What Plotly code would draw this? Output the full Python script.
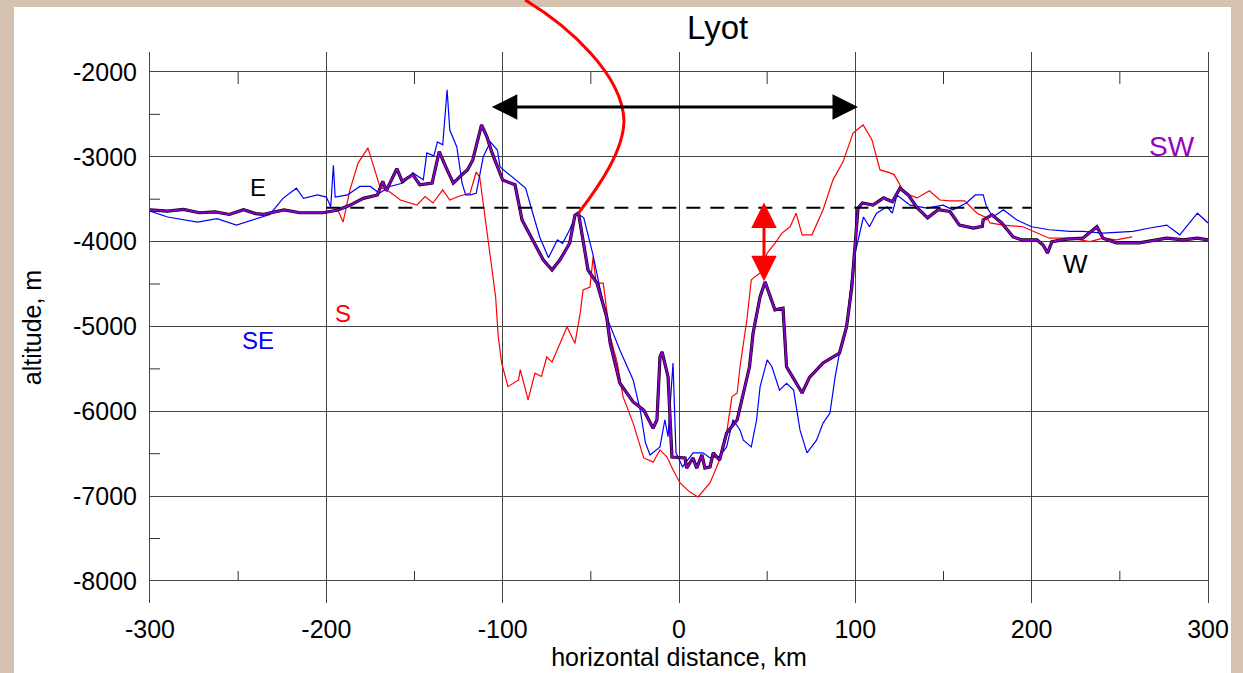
import plotly.graph_objects as go

# ---------------- data ----------------
# thick profile (black E-W under purple SW)
ew_x = [-300, -290, -281, -272, -263, -255, -247, -240, -236, -230, -224, -215, -202, -194, -187,
        -179, -171, -168, -166, -160, -157, -151, -147, -140, -136, -132, -128, -122.5, -120, -117,
        -112, -109, -106, -100, -93, -89, -83, -77, -72, -67.5, -62, -59, -57, -51.6, -46.5, -41,
        -39, -33.5, -26, -20, -14.7, -12.5, -10.8, -9.6, -6.2, -4, 3.4, 4.3, 8, 10, 13, 14.7, 17.6,
        19.4, 23, 27, 33, 35.6, 40, 42, 46, 48.8, 54.4, 59, 61, 64.6, 69.8, 74, 81.7, 91, 95, 98,
        100, 101.5, 104, 110, 116, 121, 125.3, 130, 135, 141, 147, 153.7, 159, 167, 172, 172.5,
        177.5, 183, 189.5, 194.5, 203, 206.5, 209, 211.5, 220, 229, 237, 240.5, 248, 261, 276.5,
        286, 294, 300]
ew_y = [-3627, -3640, -3620, -3660, -3650, -3680, -3625, -3670, -3680, -3655, -3627, -3660, -3660,
        -3630, -3575, -3490, -3450, -3290, -3400, -3140, -3290, -3210, -3330, -3310, -2940, -3130,
        -3310, -3200, -3155, -3040, -2625, -2760, -2955, -3275, -3330, -3745, -3980, -4215, -4335,
        -4215, -4020, -3690, -3665, -4335, -4490, -4890, -5200, -5670, -5890, -5985, -6200, -6100,
        -5360, -5300, -5595, -6540, -6550, -6670, -6550, -6670, -6515, -6670, -6655, -6490, -6575,
        -6255, -6100, -5865, -5475, -5080, -4650, -4475, -4805, -4785, -5475, -5600, -5785, -5600,
        -5430, -5315, -5005, -4535, -3980, -3605, -3545, -3570, -3485, -3530, -3370, -3450, -3600,
        -3720, -3625, -3645, -3805, -3840, -3820, -3745, -3685, -3780, -3945, -3980, -3980, -4040,
        -4135, -4000, -3970, -3960, -3825, -3960, -4015, -4015, -3960, -3980, -3960, -3980]

# SE profile (blue)
se_x = [-300, -290, -273, -262, -251, -243, -232, -224.6, -217, -213, -205, -200, -197.5, -196, -195,
        -188, -181, -175, -170, -164, -156.5, -151, -145, -143, -139, -137, -134, -131.5, -130, -126,
        -123, -121, -118.5, -115, -111, -107, -103, -101.5, -94, -87, -83, -79, -74, -69, -66, -62,
        -58, -54, -49, -45, -41, -33.5, -26, -22, -19, -16.4, -10.8, -8, -6.2, -3.4, -1.7, 2, 8,
        13.6, 17.6, 23, 27, 30.6, 34.6, 36.5, 41, 44, 46, 50, 52.7, 57, 61, 65, 68.6, 72.6, 78,
        81.7, 85.6, 88.5, 91, 95, 99, 102.6, 104.6, 108, 112, 118, 121, 123.6, 131, 140.6, 149.7,
        155.4, 163, 168, 172.5, 174.4, 178, 184, 191.6, 200, 210, 221.7, 229, 240.5, 257.5, 267,
        276.6, 284, 294, 300]
se_y = [-3640, -3710, -3770, -3730, -3805, -3750, -3680, -3490, -3370, -3490, -3450, -3475, -3590,
        -3100, -3475, -3450, -3350, -3350, -3430, -3350, -3310, -3190, -3270, -2955, -2990, -2825,
        -2860, -2210, -2685, -2885, -3310, -3450, -3450, -3430, -3000, -2825, -2920, -3120, -3250,
        -3370, -3660, -3945, -4190, -3980, -4020, -3860, -3665, -3720, -4135, -4535, -4890, -5280,
        -5630, -5985, -6375, -6515, -6420, -6100, -6300, -5430, -6490, -6655, -6490, -6490, -6550,
        -6530, -6420, -6100, -6220, -6340, -6420, -6100, -5710, -5395, -5475, -5750, -5670, -5750,
        -6220, -6490, -6340, -6140, -6020, -5600, -5315, -5005, -4215, -3900, -3710, -3825, -3665,
        -3590, -3665, -3450, -3570, -3605, -3570, -3625, -3545, -3450, -3450, -3590, -3710, -3625,
        -3745, -3825, -3860, -3880, -3880, -3900, -3880, -3840, -3805, -3920, -3665, -3780]

# S profile (red)
s_x = [-193.5, -190.5, -186.6, -182, -176.4, -169.6, -164, -158, -148.6, -144, -139.5, -134, -130,
       -124, -118.5, -115, -113, -110, -107, -104, -102.5, -100.6, -97, -91, -90, -85.6, -81.7, -78,
       -75, -72, -67.5, -63.5, -59, -56, -54.4, -50.5, -48.7, -47, -43, -39, -35, -31.7, -26, -20,
       -14.7, -10.8, -6.8, -3.4, 0.6, 6, 10.8, 17.6, 23, 27, 30, 33, 34.6, 38.5, 41, 46, 50, 54.4,
       58.4, 63, 66.4, 69.8, 75.4, 81.7, 87.3, 93, 98.7, 104.4, 109.4, 114, 119.7, 122, 128, 135,
       142, 148, 153.7, 162, 169, 174.7, 176.4, 184, 195, 203, 210, 221.7, 233, 240.5, 248, 257]
s_y = [-3625, -3770, -3390, -3075, -2895, -3355, -3415, -3510, -3570, -3470, -3545, -3390, -3510,
       -3460, -3430, -3180, -3240, -3710, -4180, -4650, -5120, -5430, -5710, -5630, -5510, -5865,
       -5550, -5590, -5360, -5420, -5200, -5005, -5200, -4840, -4570, -4535, -4180, -4490, -4490,
       -5120, -5430, -5830, -6140, -6550, -6600, -6455, -6540, -6690, -6845, -6950, -7010, -6845,
       -6575, -6255, -5830, -5785, -5475, -4920, -4450, -4370, -4135, -4020, -3900, -3825, -3665,
       -3920, -3920, -3625, -3275, -3060, -2720, -2625, -2800, -3155, -3190, -3210, -3430, -3485,
       -3400, -3510, -3520, -3520, -3665, -3720, -3780, -3805, -3825, -3900, -3960, -3960, -4000,
       -3960, -3980, -3945]

# reference level (dashed) and annotations
ref_level_x = [-200, 200]
ref_level_y = [-3600, -3600]
rim_arrow_x = [-107, 101.5]
rim_arrow_y = -2413
peak_arrow_x = 48.2
peak_arrow_y = [-3540, -4484]
arc_x = [-87.3, -61.8, -32.3, -31.2, -31.2, -44.8, -57]
arc_y = [-1151, -1470, -2035, -2566, -2919, -3332, -3665]

x_ticks = [-300, -200, -100, 0, 100, 200, 300]
y_ticks = [-2000, -3000, -4000, -5000, -6000, -7000, -8000]
x_minor = [-250, -150, -50, 50, 150, 250]
y_minor = [-2500, -3500, -4500, -5500, -6500, -7500]

labels = [("E", -238.8, -3367, "black", 24),
          ("W", 225, -4263, "black", 26),
          ("SW", 279.6, -2884, "#9A00C8", 28),
          ("SE", -238.8, -5160, "#0000FF", 24),
          ("S", -190.5, -4853, "#FF0000", 24)]

X_RANGE = [-300, 300]
Y_RANGE = [-8260, -1765]
FONT = "Liberation Sans, Arial, sans-serif"
BG = "#D4C1B0"


def xp(v):
    return (v - X_RANGE[0]) / (X_RANGE[1] - X_RANGE[0])


def yp(v):
    return (v - Y_RANGE[0]) / (Y_RANGE[1] - Y_RANGE[0])


fig = go.Figure()
fig.add_trace(go.Scatter(x=s_x, y=s_y, mode="lines", line=dict(color="#FF0000", width=1.2)))
fig.add_trace(go.Scatter(x=se_x, y=se_y, mode="lines", line=dict(color="#0000FF", width=1.2)))
fig.add_trace(go.Scatter(x=ew_x, y=ew_y, mode="lines", line=dict(color="#000000", width=3.2)))
fig.add_trace(go.Scatter(x=ew_x, y=ew_y, mode="lines", line=dict(color="#8A00C8", width=2)))
fig.add_trace(go.Scatter(x=ref_level_x, y=ref_level_y, mode="lines",
                         line=dict(color="black", width=2, dash="14px,10px")))

shapes = []
# white panel
shapes.append(dict(type="rect", xref="paper", yref="paper", layer="below",
                   x0=(14 - 150) / 1058, x1=(1231 - 150) / 1058,
                   y0=(603 - 680) / 551, y1=(603 - 7) / 551,
                   fillcolor="white", line=dict(width=0)))
# minor ticks
for v in y_minor:
    shapes.append(dict(type="line", xref="x", yref="y", xsizemode="pixel", xanchor=X_RANGE[0],
                       x0=0, x1=10, y0=v, y1=v, line=dict(color="#333", width=1)))
for v in x_minor:
    shapes.append(dict(type="line", xref="x", yref="y", ysizemode="pixel", yanchor=y_ticks[0],
                       y0=0, y1=-12, x0=v, x1=v, line=dict(color="#333", width=1)))
    shapes.append(dict(type="line", xref="x", yref="y", ysizemode="pixel", yanchor=y_ticks[-1],
                       y0=0, y1=10, x0=v, x1=v, line=dict(color="#333", width=1)))
# red arc
pts = [(xp(a), yp(b)) for a, b in zip(arc_x, arc_y)]
path = "M {:.4f},{:.4f} C {:.4f},{:.4f} {:.4f},{:.4f} {:.4f},{:.4f} C {:.4f},{:.4f} {:.4f},{:.4f} {:.4f},{:.4f}".format(
    *[c for p in pts for c in p])
shapes.append(dict(type="path", xref="paper", yref="paper", path=path,
                   line=dict(color="#FF0000", width=3)))

annotations = []
annotations.append(dict(x=rim_arrow_x[1], y=rim_arrow_y, ax=rim_arrow_x[0], ay=rim_arrow_y,
                        xref="x", yref="y", axref="x", ayref="y", text="", showarrow=True,
                        arrowhead=2, startarrowhead=2, arrowside="end+start",
                        arrowsize=1.7, startarrowsize=1.7, arrowwidth=3, arrowcolor="black"))
annotations.append(dict(x=peak_arrow_x, y=peak_arrow_y[0], ax=peak_arrow_x, ay=peak_arrow_y[1],
                        xref="x", yref="y", axref="x", ayref="y", text="", showarrow=True,
                        arrowhead=2, startarrowhead=2, arrowside="end+start",
                        arrowsize=1.7, startarrowsize=1.7, arrowwidth=3, arrowcolor="#FF0000"))
for t, lx, ly, col, sz in labels:
    annotations.append(dict(x=lx, y=ly, xref="x", yref="y", text=t, showarrow=False,
                            font=dict(family=FONT, size=sz, color=col)))
annotations.append(dict(x=xp(22), y=yp(-1481), xref="paper", yref="paper", text="Lyot",
                        xanchor="center", yanchor="middle",
                        showarrow=False, font=dict(family=FONT, size=33, color="black")))

fig.update_layout(
    width=1243, height=673,
    margin=dict(l=150, r=35, t=52, b=70, autoexpand=False),
    paper_bgcolor=BG, plot_bgcolor="white",
    showlegend=False,
    font=dict(family=FONT, size=25, color="black"),
    shapes=shapes, annotations=annotations,
)
fig.update_xaxes(range=X_RANGE, tickvals=x_ticks, ticktext=[str(v) for v in x_ticks],
                 showgrid=True, gridcolor="#444", gridwidth=1, zeroline=False, showline=False,
                 ticks="outside", ticklen=4, tickcolor="rgba(0,0,0,0)", automargin=False,
                 tickfont=dict(family=FONT, size=25),
                 title=dict(text="horizontal distance, km", standoff=4, font=dict(family=FONT, size=25)))
fig.update_yaxes(range=Y_RANGE, tickvals=y_ticks, ticktext=[str(v) for v in y_ticks],
                 showgrid=True, gridcolor="#444", gridwidth=1, zeroline=False,
                 showline=True, linecolor="#444", linewidth=1, mirror=True,
                 ticks="outside", ticklen=7, tickcolor="rgba(0,0,0,0)", automargin=False,
                 tickfont=dict(family=FONT, size=25),
                 title=dict(text="altitude, m", standoff=24, font=dict(family=FONT, size=25)))

fig.write_html("out.html", config={"displayModeBar": False},
               post_script="document.body.style.margin='0';document.body.style.background='%s';" % BG)
